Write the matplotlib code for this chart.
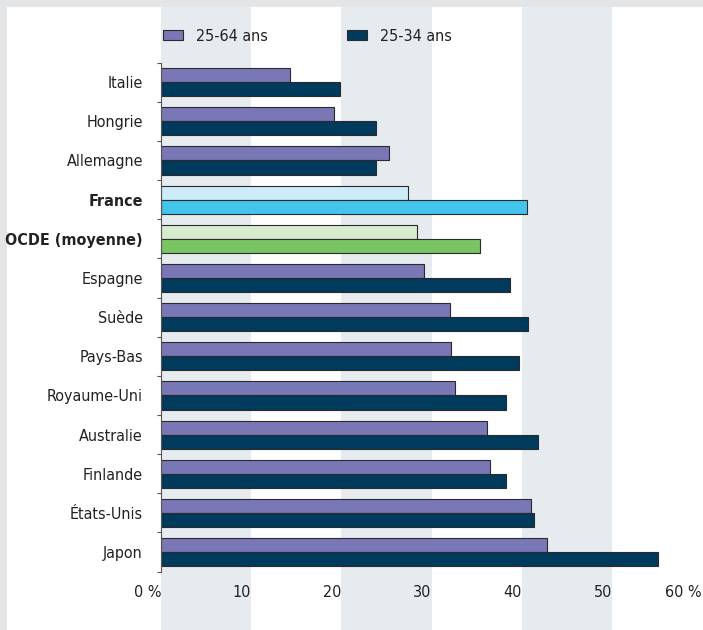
import matplotlib.pyplot as plt
from matplotlib import font_manager as fm
from matplotlib.patches import Patch, Rectangle
import numpy as np

# police etroite si elle existe, sinon Liberation Sans un peu plus petite
fonts = {(f.name, str(f.stretch)) for f in fm.fontManager.ttflist}
if any(n == 'Liberation Sans Narrow' for n, s in fonts):
    plt.rcParams['font.family'] = ['Liberation Sans Narrow', 'DejaVu Sans']
    fs = 13.4
elif ('DejaVu Sans', 'condensed') in fonts:
    plt.rcParams['font.family'] = ['DejaVu Sans']
    plt.rcParams['font.stretch'] = 'condensed'
    fs = 11.5
else:
    plt.rcParams['font.family'] = ['Liberation Sans', 'DejaVu Sans']
    fs = 11.8

# donnees (% de diplomes du superieur)
pays = ['Italie', 'Hongrie', 'Allemagne', 'France', 'OCDE (moyenne)',
        'Espagne', 'Suède', 'Pays-Bas', 'Royaume-Uni', 'Australie',
        'Finlande', 'États-Unis', 'Japon']
ans_25_64 = [14.3, 19.2, 25.3, 27.4, 28.4, 29.2, 32.0, 32.2, 32.6, 36.1,
             36.5, 41.0, 42.8]
ans_25_34 = [19.8, 23.9, 23.9, 40.6, 35.4, 38.7, 40.7, 39.7, 38.3, 41.8,
             38.3, 41.4, 55.1]
xticks = [0, 10, 20, 30, 40, 50, 60]
xlabels = ['0 %', '10', '20', '30', '40', '50', '60 %']
bold = ['France', 'OCDE (moyenne)']

c_old = '#7a77b7'
c_young = '#003a5d'
special = {'France': ('#cdebf8', '#42c4ec'),
           'OCDE (moyenne)': ('#d7ebcf', '#79c564')}
edge = '#2a2a2a'
txt = '#222222'

W, H = 703, 630
fig = plt.figure(figsize=(W / 100, H / 100), dpi=100)
fig.patch.set_facecolor('#e4e5e6')
fig.patches.append(Rectangle((7 / W, 0), 1, 1 - 7 / H, transform=fig.transFigure,
                             facecolor='white', edgecolor='none', zorder=-10))

ax = fig.add_axes([161 / W, 0, 541 / W, (H - 7) / H])
ax.set_facecolor('none')

# bandes verticales
for a in (0, 20, 40):
    ax.axvspan(a, a + 10, color='#e6ebf0', zorder=0, lw=0)

y = np.arange(len(pays))
h = 0.36
for i, p in enumerate(pays):
    c1, c2 = special.get(p, (c_old, c_young))
    ax.barh(y[i] - h / 2, ans_25_64[i], height=h, color=c1, edgecolor=edge,
            linewidth=0.8, zorder=3)
    ax.barh(y[i] + h / 2, ans_25_34[i], height=h, color=c2, edgecolor=edge,
            linewidth=0.8, zorder=3)

ax.set_xlim(0, 60)
ax.set_ylim(13.99, -1.92)

for s in ['top', 'right', 'bottom']:
    ax.spines[s].set_visible(False)
ax.spines['left'].set_bounds(-0.5, len(pays) - 0.5)
ax.spines['left'].set_color('#555555')
ax.spines['left'].set_linewidth(0.8)
ax.spines['left'].set_zorder(4)

ax.set_yticks(y)
ax.set_yticklabels(pays, fontsize=fs, color=txt)
for lab in ax.get_yticklabels():
    if lab.get_text() in bold:
        lab.set_fontweight('bold')
ax.set_yticks(np.arange(len(pays) + 1) - 0.5, minor=True)
ax.tick_params(axis='y', which='major', length=0, pad=13)
ax.tick_params(axis='y', which='minor', length=3, width=0.8, color='#555555')
ax.set_xticks([])

for xv, lab in zip(xticks, xlabels):
    ax.text(xv, 13.02, lab, ha='right', va='center', fontsize=fs, color=txt)

handles = [Patch(facecolor=c_old, edgecolor=edge, linewidth=0.8, label='25-64 ans'),
           Patch(facecolor=c_young, edgecolor=edge, linewidth=0.8, label='25-34 ans')]
leg = ax.legend(handles=handles, loc='center left', bbox_to_anchor=(0.0037, 0.9526),
                ncol=2, frameon=False, fontsize=fs, borderpad=0, borderaxespad=0,
                handlelength=20 / (fs * 100 / 72), handleheight=0.6,
                handletextpad=13 / (fs * 100 / 72), columnspacing=79 / (fs * 100 / 72))
for t in leg.get_texts():
    t.set_color(txt)

fig.savefig('out.png', dpi=100, facecolor=fig.get_facecolor())
